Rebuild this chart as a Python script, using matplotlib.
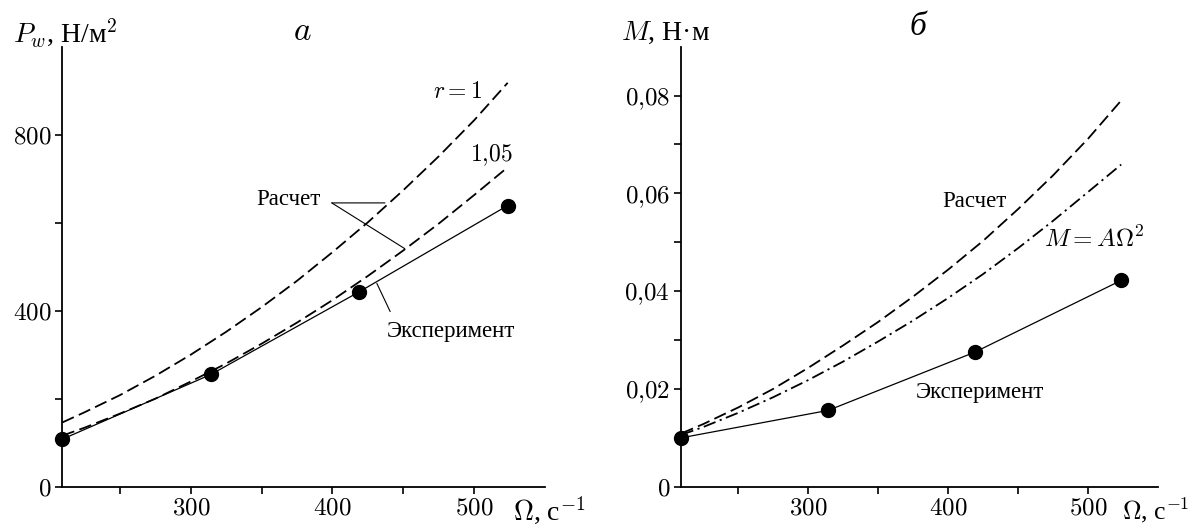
import matplotlib
matplotlib.use("Agg")
import matplotlib.pyplot as plt

plt.rcParams["font.family"] = ["Liberation Serif", "DejaVu Serif"]
plt.rcParams["mathtext.fontset"] = "cm"

# experiment: 2000..5000 rpm
omega_exp = [209.4, 314.2, 418.9, 523.6]
p_exp = [108, 255, 443, 639]
m_exp = [0.0100, 0.0156, 0.0275, 0.0422]

# calculated curves
omega_calc = [209.4, 225, 250, 275, 300, 325, 350, 375, 400, 425, 450, 475, 500, 523.6]
p_r1 = [146, 169, 208, 252, 300, 352, 408, 468, 533, 601, 674, 751, 833, 918]
p_r105 = [116, 134, 166, 200, 239, 280, 325, 373, 424, 479, 537, 598, 663, 726]
m_calc = [0.0109, 0.0128, 0.0162, 0.0200, 0.0243, 0.0289, 0.0337, 0.0389,
          0.0444, 0.0503, 0.0568, 0.0637, 0.0712, 0.0790]
m_quad = [0.0106, 0.0122, 0.0151, 0.0183, 0.0218, 0.0256, 0.0297, 0.0340,
          0.0386, 0.0435, 0.0488, 0.0544, 0.0603, 0.0659]

x_ticks = [300, 400, 500]
x_minor = [250, 350, 450]
p_ticks = [0, 400, 800]
p_minor = [200, 600]
m_ticks = [0, 0.02, 0.04, 0.06, 0.08]
m_labels = ["$0$", "$0{,}02$", "$0{,}04$", "$0{,}06$", "$0{,}08$"]
m_minor = [0.01, 0.03, 0.05, 0.07]

DASH = (7, 3)
DASHDOT = (7, 2.5, 1.2, 2.5)
TXT = 16.5
TICK = 18
LAB = 20


def style(ax):
    for s in ("top", "right"):
        ax.spines[s].set_visible(False)
    for s in ("left", "bottom"):
        ax.spines[s].set_linewidth(1.3)
    ax.tick_params(which="both", direction="out", length=5, width=1.2,
                   labelsize=TICK, pad=3)
    ax.set_xlim(209.4, 550)
    ax.set_xticks(x_ticks, [f"${v}$" for v in x_ticks])
    ax.set_xticks(x_minor, minor=True)


def leader(ax, start, end):
    ax.annotate("", xy=end, xytext=start,
                arrowprops=dict(arrowstyle="-", lw=0.8, color="black",
                                shrinkA=0, shrinkB=0))


fig = plt.figure(figsize=(11.92, 5.25), dpi=100)
ax1 = fig.add_axes([0.0523, 0.073, 0.405, 0.838])
ax2 = fig.add_axes([0.5716, 0.073, 0.400, 0.838])

# --- panel a
style(ax1)
ax1.plot(omega_calc, p_r1, color="black", lw=1.3, dashes=DASH)
ax1.plot(omega_calc, p_r105, color="black", lw=1.3, dashes=DASH)
ax1.plot(omega_exp, p_exp, color="black", lw=0.9, marker="o", ms=10, clip_on=False)
ax1.set_ylim(0, 1000)
ax1.set_yticks(p_ticks, [f"${v}$" for v in p_ticks])
ax1.set_yticks(p_minor, minor=True)

ax1.text(506, 895, "$r=1$", fontsize=17, ha="right", va="center")
ax1.text(527, 754, "$1{,}05$", fontsize=17, ha="right", va="center")
ax1.text(346, 652, "Расчет", fontsize=TXT, ha="left", va="center")
leader(ax1, (399.5, 645), (437, 645))
leader(ax1, (399.5, 645), (451, 541))
ax1.text(438, 352, "Эксперимент", fontsize=TXT, ha="left", va="center")
leader(ax1, (440.7, 398), (431.3, 462))
ax1.text(378.6, 1034, "$a$", fontsize=24, ha="center", va="center")
fig.text(0.011, 0.937, "$P_w$, Н/м$^2$", fontsize=LAB, ha="left", va="center")
fig.text(513 / 1192, 1 - 510 / 525, r"$\Omega$, с$^{-1}$", fontsize=LAB,
         ha="left", va="center")

# --- panel b
style(ax2)
ax2.plot(omega_calc, m_calc, color="black", lw=1.3, dashes=DASH)
ax2.plot(omega_calc, m_quad, color="black", lw=1.3, dashes=DASHDOT)
ax2.plot(omega_exp, m_exp, color="black", lw=0.9, marker="o", ms=10, clip_on=False)
ax2.set_ylim(0, 0.09)
ax2.set_yticks(m_ticks, m_labels)
ax2.set_yticks(m_minor, minor=True)

ax2.text(396, 0.0584, "Расчет", fontsize=TXT, ha="left", va="center")
ax2.text(468.5, 0.0507, r"$M=A\Omega^2$", fontsize=18, ha="left", va="center")
ax2.text(377, 0.0193, "Эксперимент", fontsize=TXT, ha="left", va="center")
ax2.text(378.7, 0.094, "б", fontsize=24, style="italic", ha="center", va="center")
fig.text(621 / 1192, 0.937, "$M$, Н·м", fontsize=LAB, ha="left", va="center")
fig.text(1189 / 1192, 1 - 510 / 525, r"$\Omega$, с$^{-1}$", fontsize=18.5,
         ha="right", va="center")

fig.savefig("out.png", dpi=100)
